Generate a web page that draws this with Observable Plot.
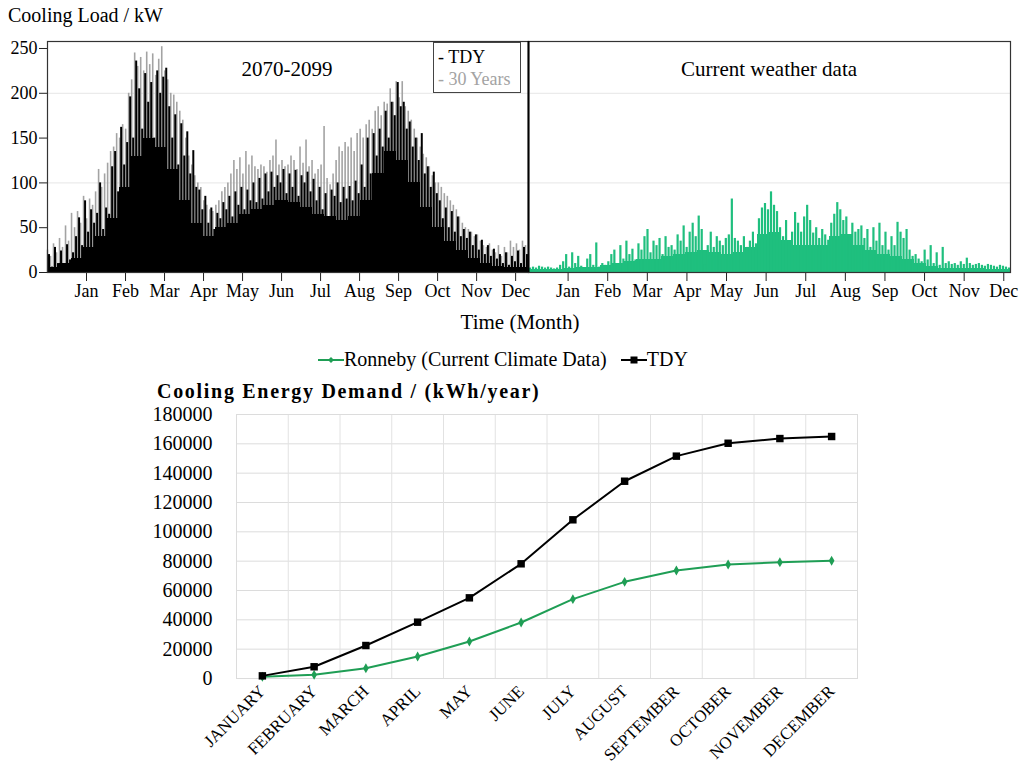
<!DOCTYPE html>
<html>
<head>
<meta charset="utf-8">
<script src="https://cdn.jsdelivr.net/npm/d3@7"></script>
<script src="https://cdn.jsdelivr.net/npm/@observablehq/plot@0.6"></script>
<style>
  html, body { margin: 0; padding: 0; background: #fff; }
  #page { position: relative; width: 1027px; height: 777px; overflow: hidden; font-family: "Liberation Serif", "DejaVu Serif", serif; color: #000; }
  .abs { position: absolute; white-space: nowrap; }
  #page svg { overflow: visible; }
</style>
</head>
<body>
<div id="page"></div>
<script>
// ---- Hourly cooling load across the year (kW) ----
const monthTicks = ["Jan", "Feb", "Mar", "Apr", "May", "Jun", "Jul", "Aug", "Sep", "Oct", "Nov", "Dec"];

// Daily peak loads, future climate 2070-2099, typical downscaled year (TDY)
const tdyPeaks = [
  20, 6, 28, 10, 24, 8, 31, 14, 22, 40,
  61, 30, 80, 45, 70, 55, 66, 100, 48, 72,
  65, 118, 135, 90, 162, 120, 145, 196, 150, 236,
  205, 160, 222, 190, 212, 150, 225, 200, 218, 228,
  185, 150, 176, 120, 166, 130, 157, 110, 136, 95,
  92, 70, 85, 55, 72, 48, 66, 60, 78, 70,
  85, 62, 90, 75, 95, 70, 92, 80, 100, 78,
  105, 82, 110, 90, 112, 95, 108, 100, 115, 88,
  110, 95, 114, 85, 108, 100, 112, 90, 104, 80,
  95, 70, 88, 60, 92, 85, 100, 78, 95, 82,
  96, 80, 102, 88, 120, 95, 150, 110, 155, 130,
  160, 140, 180, 150, 190, 175, 212, 185, 190, 160,
  168, 140, 150, 125, 155, 110, 118, 95, 112, 88,
  80, 60, 72, 50, 68, 45, 62, 40, 48, 38,
  45, 30, 42, 25, 36, 20, 30, 18, 26, 15,
  20, 10, 22, 8, 18, 12, 24, 10, 28, 20
];
// Night-time base load under the TDY peaks
const tdyBase = [
  6, 10, 16, 28, 40, 60, 95, 130, 150, 140,
  115, 80, 55, 40, 50, 55, 65, 70, 75, 80,
  78, 72, 65, 62, 58, 62, 80, 110, 135, 125,
  100, 72, 50, 35, 24, 16, 10, 7, 6, 6
];

// Daily peak loads, future climate 2070-2099, all 30 years
const thirtyYearPeaks = [
  25, 18, 32, 22, 38, 28, 52, 35, 66, 50,
  68, 55, 85, 60, 82, 75, 90, 115, 95, 110,
  122, 135, 140, 155, 150, 165, 160, 200, 215, 245,
  230, 240, 225, 246, 232, 244, 220, 238, 252, 225,
  215, 200, 198, 190, 180, 170, 150, 130, 120, 108,
  100, 95, 80, 75, 70, 68, 75, 80, 90, 95,
  100, 110, 125, 115, 128, 110, 135, 120, 130, 118,
  115, 120, 118, 112, 125, 130, 148, 120, 125, 118,
  120, 130, 125, 115, 140, 122, 148, 118, 125, 110,
  115, 120, 163, 105, 98, 110, 125, 140, 135, 145,
  140, 150, 135, 155, 160, 150, 165, 170, 160, 180,
  185, 175, 190, 188, 205, 190, 213, 195, 213, 185,
  180, 170, 160, 150, 140, 132, 128, 118, 108, 100,
  100, 95, 88, 85, 80, 75, 70, 62, 55, 50,
  48, 45, 40, 42, 35, 30, 28, 32, 25, 22,
  30, 18, 28, 22, 35, 28, 32, 25, 35, 30
];

// Daily peak loads, current weather data
const currentPeaks = [
  5, 6, 5, 7, 6, 5, 6, 5, 4, 5,
  8, 12, 20, 6, 22, 10, 18, 7, 5, 15,
  20, 8, 33, 6, 10, 8, 12, 20, 25, 10,
  30, 15, 35, 20, 26, 14, 32, 25, 40, 48,
  22, 35, 30, 38, 20, 40, 28, 30, 25, 42,
  35, 52, 28, 45, 55, 40, 63, 48, 8, 30,
  45, 28, 40, 35, 30, 38, 42, 82, 38, 35,
  30, 40, 28, 35, 45, 32, 60, 72, 77, 70,
  90, 75, 68, 50, 40, 58, 35, 45, 67, 55,
  45, 62, 75, 58, 44, 50, 38, 48, 42, 36,
  55, 65, 78, 70, 58, 62, 40, 55, 45, 48,
  52, 38, 48, 28, 50, 35, 55, 30, 45, 25,
  40, 30, 56, 45, 38, 48, 25, 18, 20, 15,
  12, 25, 14, 30, 10, 22, 8, 28, 10, 12,
  9, 10, 8, 12, 9, 16, 10, 8, 9, 10,
  8, 7, 9, 8, 7, 6, 8, 7, 6, 5
];
// Night-time base load under the current-weather peaks
const currentBase = [
  3, 3, 3, 5, 6, 6, 8, 10, 12, 15,
  15, 18, 20, 22, 25, 22, 20, 22, 28, 42,
  45, 36, 30, 30, 30, 40, 42, 30, 24, 20,
  18, 15, 10, 7, 5, 5, 4, 4, 3, 3
];

// ---- Cumulative monthly cooling energy demand (kWh) ----
const monthNames = ["JANUARY", "FEBRUARY", "MARCH", "APRIL", "MAY", "JUNE", "JULY", "AUGUST", "SEPTEMBER", "OCTOBER", "NOVEMBER", "DECEMBER"];
const ronnebyDemand = [1200, 2500, 7000, 15000, 25200, 38200, 54100, 65900, 73600, 77700, 79300, 80250];
const tdyDemand = [1800, 8000, 22500, 38400, 55000, 78200, 108200, 134500, 151600, 160400, 163600, 165000];

const GREEN_FILL = "#1fbf7e";
const GREEN_LINE = "#1f9e55";
const GREY = "#a3a3a3";
const page = document.getElementById("page");

function addText(text, style) {
  const d = document.createElement("div");
  d.className = "abs";
  d.textContent = text;
  Object.assign(d.style, style);
  page.appendChild(d);
  return d;
}

// Spread samples evenly over a span of months; `at` places each sample inside its slot
function toSlots(values, span, at = 0.5) {
  const w = span / values.length;
  return values.map((v, i) => ({x1: i * w, x2: (i + 1) * w, x: (i + at) * w, load: v}));
}

const monthTickPos = monthTicks.map((_, i) => i + 1);
const yMax = 257.8;

// ---- Left panel: 2070-2099 ----
const leftSpan = 12.33;
const left = Plot.plot({
  width: 528, height: 302,
  marginLeft: 47, marginRight: 0, marginTop: 41, marginBottom: 30,
  style: {fontFamily: "Liberation Serif, serif", background: "transparent", color: "#000"},
  x: {domain: [0, leftSpan]},
  y: {domain: [0, yMax]},
  marks: [
    Plot.ruleY([100, 200], {stroke: "#e6e6e6"}),
    Plot.ruleX(toSlots(thirtyYearPeaks, leftSpan, 0.0), {x: "x", y1: 0, y2: "load", stroke: GREY, strokeWidth: 1.6}),
    Plot.rectY(toSlots(tdyBase, leftSpan), {x1: "x1", x2: "x2", y: "load", fill: "#000", shapeRendering: "crispEdges"}),
    Plot.ruleX(toSlots(tdyPeaks, leftSpan, 0.5), {x: "x", y1: 0, y2: "load", stroke: "#000", strokeWidth: 2.0}),
    Plot.axisY({ticks: [0, 50, 100, 150, 200, 250], tickSize: 8, tickPadding: 2, fontSize: 18, label: null, stroke: "#222"}),
    Plot.axisX({ticks: monthTickPos, tickFormat: d => monthTicks[d - 1], tickSize: 9, tickPadding: 3, fontSize: 18, label: null, stroke: "#222"}),
    Plot.frame({stroke: "#333", strokeWidth: 1.2})
  ]
});
left.style.position = "absolute";
left.style.left = "0px";
left.style.top = "0px";
page.appendChild(left);

// ---- Right panel: current weather data ----
const rightSpan = 12.17;
const right = Plot.plot({
  width: 499, height: 302,
  marginLeft: 0, marginRight: 17, marginTop: 41, marginBottom: 30,
  style: {fontFamily: "Liberation Serif, serif", background: "transparent", color: "#000"},
  x: {domain: [0, rightSpan]},
  y: {domain: [0, yMax], axis: null},
  marks: [
    Plot.ruleY([100, 200], {stroke: "#e6e6e6"}),
    Plot.rectY(toSlots(currentBase, rightSpan), {x1: "x1", x2: "x2", y: "load", fill: GREEN_FILL, shapeRendering: "crispEdges"}),
    Plot.ruleX(toSlots(currentPeaks, rightSpan, 0.5), {x: "x", y1: 0, y2: "load", stroke: GREEN_FILL, strokeWidth: 2.2}),
    Plot.axisX({ticks: monthTickPos, tickFormat: d => monthTicks[d - 1], tickSize: 9, tickPadding: 3, fontSize: 18, label: null, stroke: "#222"}),
    Plot.frame({stroke: "#333", strokeWidth: 1.2}),
    Plot.ruleX([0], {stroke: "#000", strokeWidth: 2})
  ]
});
right.style.position = "absolute";
right.style.left = "528px";
right.style.top = "0px";
page.appendChild(right);

// Top panel texts
addText("Cooling Load / kW", {left: "8px", top: "4px", fontSize: "20px"});
addText("2070-2099", {left: "287px", top: "57px", fontSize: "21px", transform: "translateX(-50%)"});
addText("Current weather data", {left: "769px", top: "57px", fontSize: "21px", transform: "translateX(-50%)"});
addText("Time (Month)", {left: "520px", top: "310px", fontSize: "21px", transform: "translateX(-50%)"});

// Series key of the future-climate panel
const key = document.createElement("div");
key.className = "abs";
Object.assign(key.style, {left: "433px", top: "42px", width: "88px", height: "51px", border: "1px solid #444", background: "#fff", fontSize: "18px", lineHeight: "22px", padding: "3px 0 0 4px", boxSizing: "border-box"});
key.innerHTML = '<div style="color:#000">- TDY</div><div style="color:' + GREY + '">- 30 Years</div>';
page.appendChild(key);

// ---- Bottom chart: cumulative cooling energy demand ----
const legend = document.createElement("div");
legend.className = "abs";
Object.assign(legend.style, {left: "318px", top: "348px", fontSize: "20px", display: "flex", alignItems: "center"});
legend.innerHTML =
  '<svg width="26" height="12"><line x1="0" y1="6" x2="26" y2="6" stroke="' + GREEN_LINE + '" stroke-width="2"/><path d="M13,3 L16,6 L13,9 L10,6 Z" fill="' + GREEN_LINE + '"/></svg>' +
  '<span>Ronneby (Current Climate Data)</span>' +
  '<svg width="26" height="12" style="margin-left:14px"><line x1="0" y1="6" x2="26" y2="6" stroke="#000" stroke-width="2"/><rect x="9.5" y="2.5" width="7" height="7" fill="#000"/></svg>' +
  '<span>TDY</span>';
page.appendChild(legend);

addText("Cooling Energy Demand / (kWh/year)", {left: "157px", top: "380px", fontSize: "20px", fontWeight: "bold", letterSpacing: "1.7px"});

const idx = monthNames.map((_, i) => i);
const demandRows = (vals) => vals.map((v, i) => ({m: i, v}));
const bottom = Plot.plot({
  width: 1027, height: 377,
  marginLeft: 236, marginRight: 170, marginTop: 14, marginBottom: 99,
  style: {fontFamily: "Liberation Serif, serif", background: "transparent", color: "#000"},
  x: {domain: [-0.5, monthNames.length - 0.5]},
  y: {domain: [0, 180000]},
  marks: [
    Plot.ruleY(d3.range(0, 180001, 20000), {stroke: "#dcdcdc"}),
    Plot.ruleX(d3.range(-0.5, monthNames.length, 1), {stroke: "#e2e2e2"}),
    Plot.frame({stroke: "#dcdcdc"}),
    Plot.axisY({ticks: d3.range(0, 180001, 20000), tickFormat: d => String(d), tickSize: 0, tickPadding: 24, fontSize: 20, label: null}),
    Plot.axisX({ticks: idx, tickFormat: i => monthNames[i], tickSize: 0, tickPadding: 10, tickRotate: -45, fontSize: 17, label: null}),
    Plot.line(demandRows(ronnebyDemand), {x: "m", y: "v", stroke: GREEN_LINE, strokeWidth: 2}),
    Plot.dot(demandRows(ronnebyDemand), {x: "m", y: "v", symbol: "diamond", r: 3, fill: GREEN_LINE}),
    Plot.line(demandRows(tdyDemand), {x: "m", y: "v", stroke: "#000", strokeWidth: 2}),
    Plot.dot(demandRows(tdyDemand), {x: "m", y: "v", symbol: "square", r: 4.2, fill: "#000"})
  ]
});
bottom.style.position = "absolute";
bottom.style.left = "0px";
bottom.style.top = "400px";
page.appendChild(bottom);
</script>
</body>
</html>
